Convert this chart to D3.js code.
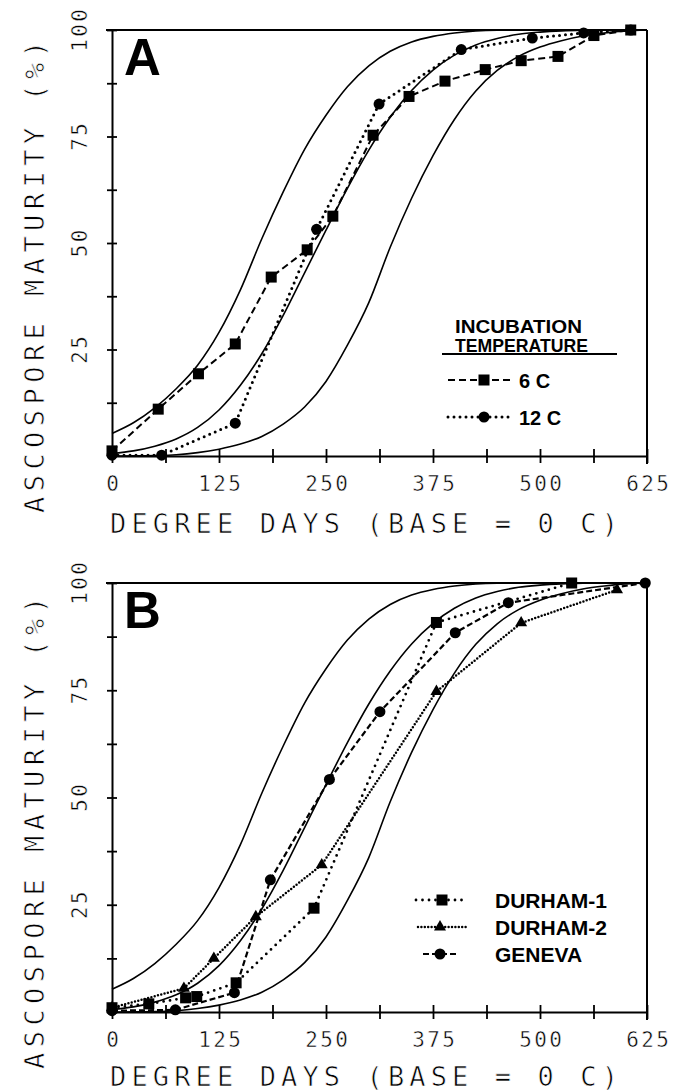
<!DOCTYPE html>
<html><head><meta charset="utf-8">
<script src="https://cdn.jsdelivr.net/npm/d3@7"></script>
<style>
html,body{margin:0;padding:0;background:#fff;}
svg{display:block;}
</style></head><body>
<svg id="chart" width="687" height="1092"></svg>
<script>
// ---- tick values / labels ----
const xTickValues = [0, 62.5, 125, 187.5, 250, 312.5, 375, 437.5, 500, 562.5, 625];
const xTickLabels = [0, 125, 250, 375, 500, 625];
const yTickValues = [0, 12.5, 25, 37.5, 50, 62.5, 75, 87.5, 100];
const yTickLabels = [25, 50, 75, 100];

// ---- model curves (degree days, % mature) ----
const curveDD    = [0,25,50,75,100,125,150,175,200,225,250,275,300,325,350,375,400,425,450,475,500,525,550,575,600,625];
const curveEarly = [5.3,7.8,11.3,15.8,21.3,29,39,51,62,72,80,86.7,91.6,95,97.2,98.5,99.3,99.75,99.95,100,100,100,100,100,100,100];
const curveMean  = [0.6,1.2,2.3,4.0,6.7,10.8,16.6,24,33,43,53,62.8,71.8,79.5,85.8,90.6,94.1,96.5,98,99,99.5,99.8,99.95,100,100,100];
const curveLate  = [0,0.02,0.1,0.3,0.8,1.6,2.8,4.6,7.5,11.5,17.5,26,36,49,60.5,70.5,79,85.7,90.5,93.8,96,97.5,98.6,99.3,99.8,100];

// ---- panel A observations ----
const inc6DD  = [0,54,101,144,186,228,258,305,347,389,436,478,521,563,606];
const inc6Pct = [1.2,11,19.3,26.3,42,48.4,56.3,75.3,84.4,88,90.7,92.8,93.8,98.7,100];
const inc12DD  = [0,58,144,239,312,408,491,551,606];
const inc12Pct = [0.2,0.2,7.7,53.2,82.6,95.4,98.1,99.3,100];

// ---- panel B observations ----
const durham1DD  = [0,43,86,99,145,236,379,537];
const durham1Pct = [1,1.9,3.3,3.6,6.8,24.2,90.8,100];
const durham2DD  = [0,84,119,168,245,379,478,590];
const durham2Pct = [1,5.5,12.5,22.2,34.3,74.7,90.7,98.4];
const genevaDD  = [0,74,143,185,254,313,401,463,623];
const genevaPct = [0.3,0.5,4.5,30.8,54.2,70,88.4,95.4,100];

const legendA = ["6 C", "12 C"];
const legendB = ["DURHAM-1", "DURHAM-2", "GENEVA"];

const svg = d3.select("#chart");
const plotFont = "'DejaVu Sans Mono', monospace";
const legFont = "'Liberation Sans Narrow','Liberation Sans', Arial, sans-serif";

const styles = {
  dashed:  {dash: "7,4", w: 2, cap: "butt"},
  dotted:  {dash: "0,6", w: 3, cap: "round"},
  dotted1: {dash: "0,6.5", w: 2.8, cap: "round"},
  dense:   {dash: "0,3.4", w: 2.5, cap: "round"},
  geneva:  {dash: "6,3", w: 2.2, cap: "butt"}
};

function marker(g, type, cx, cy) {
  if (type === "square") {
    g.append("rect").attr("x", cx - 5.5).attr("y", cy - 5.5).attr("width", 11).attr("height", 11).attr("fill", "#000");
  } else if (type === "circle") {
    g.append("circle").attr("cx", cx).attr("cy", cy).attr("r", 5.5).attr("fill", "#000");
  } else {
    const s = 12, h = s * Math.sqrt(3) / 2;
    g.append("path").attr("d", `M${cx},${cy - h*2/3}L${cx + s/2},${cy + h/3}L${cx - s/2},${cy + h/3}Z`).attr("fill", "#000");
  }
}

function drawPanel(top, bottom, letter, series, legend, titleGap) {
  const x = d3.scaleLinear().domain([0, 625]).range([112, 647]);
  const y = d3.scaleLinear().domain([0, 100]).range([bottom, top]);
  const g = svg.append("g");

  // x axis
  const xa = g.append("g").attr("transform", `translate(0,${bottom})`)
    .call(d3.axisBottom(x).tickValues(xTickValues).tickSizeInner(7).tickSizeOuter(0)
      .tickFormat(d => xTickLabels.includes(d) ? String(d) : ""));
  xa.select(".domain").attr("stroke", "#000").attr("stroke-width", 2);
  xa.selectAll(".tick line").attr("y1", -7).attr("stroke", "#000").attr("stroke-width", 1.8);
  xa.selectAll(".tick text").attr("y", 35).attr("dy", null)
    .attr("font-family", plotFont).attr("font-size", 21).attr("letter-spacing", 2.4)
    .attr("dx", 1.2)
    .attr("fill", "#000").attr("stroke", "#fff").attr("stroke-width", 0.5);

  // y axis
  const ya = g.append("g").attr("transform", "translate(112,0)")
    .call(d3.axisLeft(y).tickValues(yTickValues).tickSizeInner(5).tickSizeOuter(0)
      .tickFormat(d => yTickLabels.includes(d) ? String(d) : ""));
  ya.select(".domain").attr("stroke", "#000").attr("stroke-width", 2);
  ya.selectAll(".tick line").attr("x1", 5).attr("stroke", "#000").attr("stroke-width", 1.8);
  ya.selectAll(".tick text").attr("x", null).attr("dy", null).attr("dx", 1.2)
    .attr("transform", "translate(-25,0) rotate(-90)")
    .attr("text-anchor", "middle")
    .attr("font-family", plotFont).attr("font-size", 21).attr("letter-spacing", 2.4)
    .attr("fill", "#000").attr("stroke", "#fff").attr("stroke-width", 0.5);

  // frame: top and right
  g.append("line").attr("x1", 106).attr("x2", x(625)).attr("y1", y(100)).attr("y2", y(100))
    .attr("stroke", "#000").attr("stroke-width", 2);
  g.append("line").attr("x1", x(625)).attr("x2", x(625)).attr("y1", y(100)).attr("y2", bottom + 8)
    .attr("stroke", "#000").attr("stroke-width", 2);

  // axis titles
  g.append("text").attr("x", 110).attr("y", bottom + titleGap)
    .attr("font-family", plotFont).attr("font-size", 27)
    .attr("textLength", 508).attr("lengthAdjust", "spacing")
    .attr("fill", "#000").attr("stroke", "#fff").attr("stroke-width", 0.7)
    .text("DEGREE DAYS (BASE = 0 C)");
  g.append("text").attr("transform", `translate(44,${bottom + 57}) rotate(-90)`)
    .attr("font-family", plotFont).attr("font-size", 27)
    .attr("textLength", 472).attr("lengthAdjust", "spacing")
    .attr("fill", "#000").attr("stroke", "#fff").attr("stroke-width", 0.7)
    .text("ASCOSPORE MATURITY (%)");

  // panel letter
  g.append("text").attr("x", 124).attr("y", top + 45)
    .attr("font-family", "'Liberation Sans', Arial, sans-serif").attr("font-weight", "bold")
    .attr("font-size", 51).attr("fill", "#000").text(letter);

  // model curves
  const cl = d3.line().x(d => x(d[0])).y(d => y(d[1])).curve(d3.curveMonotoneX);
  [curveEarly, curveMean, curveLate].forEach(arr => {
    g.append("path").attr("d", cl(curveDD.map((d, i) => [d, arr[i]])))
      .attr("fill", "none").attr("stroke", "#000").attr("stroke-width", 1.6);
  });

  // observations
  const ll = d3.line().x(d => x(d[0])).y(d => y(d[1]));
  series.forEach(s => {
    const st = styles[s.style];
    const pts = s.xs.map((d, i) => [d, s.ys[i]]);
    g.append("path").attr("d", ll(pts)).attr("fill", "none").attr("stroke", "#000")
      .attr("stroke-width", st.w).attr("stroke-dasharray", st.dash).attr("stroke-linecap", st.cap);
    pts.forEach(p => marker(g, s.marker, x(p[0]), y(p[1])));
  });

  legend(g);
}

function legLine(g, x1, x2, yy, st) {
  g.append("line").attr("x1", x1).attr("x2", x2).attr("y1", yy).attr("y2", yy)
    .attr("stroke", "#000").attr("stroke-width", st.w).attr("stroke-dasharray", st.dash)
    .attr("stroke-linecap", st.cap);
}

drawPanel(30, 456, "A", [
  {xs: inc6DD, ys: inc6Pct, style: "dashed", marker: "square"},
  {xs: inc12DD, ys: inc12Pct, style: "dotted", marker: "circle"}
], g => {
  g.append("text").attr("x", 455).attr("y", 333).attr("font-family", legFont).attr("font-weight", "bold")
    .attr("font-size", 18).attr("textLength", 127).attr("lengthAdjust", "spacingAndGlyphs").text("INCUBATION");
  g.append("text").attr("x", 455).attr("y", 352).attr("font-family", legFont).attr("font-weight", "bold")
    .attr("font-size", 18).attr("textLength", 133).attr("lengthAdjust", "spacingAndGlyphs").text("TEMPERATURE");
  g.append("line").attr("x1", 442).attr("x2", 617).attr("y1", 354).attr("y2", 354)
    .attr("stroke", "#000").attr("stroke-width", 2);
  const rows = [{y: 380, st: styles.dashed, m: "square"}, {y: 417, st: styles.dotted, m: "circle"}];
  rows.forEach((r, i) => {
    legLine(g, 448, 512, r.y, r.st);
    marker(g, r.m, 484, r.y);
    g.append("text").attr("x", 519).attr("y", r.y + 7.5).attr("font-family", legFont).attr("font-weight", "bold")
      .attr("font-size", 20).text(legendA[i]);
  });
}, 77);

drawPanel(583, 1012, "B", [
  {xs: durham1DD, ys: durham1Pct, style: "dotted1", marker: "square"},
  {xs: durham2DD, ys: durham2Pct, style: "dense", marker: "triangle"},
  {xs: genevaDD, ys: genevaPct, style: "geneva", marker: "circle"}
], g => {
  const rows = [
    {y: 900, x1: 416, x2: 466, mx: 442, st: styles.dotted1, m: "square"},
    {y: 927, x1: 418, x2: 466, mx: 440, st: styles.dense, m: "triangle"},
    {y: 954, x1: 423, x2: 458, mx: 440, st: styles.geneva, m: "circle"}
  ];
  rows.forEach((r, i) => {
    legLine(g, r.x1, r.x2, r.y, r.st);
    marker(g, r.m, r.mx, r.y);
    g.append("text").attr("x", 495).attr("y", r.y + 7.5).attr("font-family", legFont).attr("font-weight", "bold")
      .attr("font-size", 21).text(legendB[i]);
  });
}, 74);
</script>
</body></html>
